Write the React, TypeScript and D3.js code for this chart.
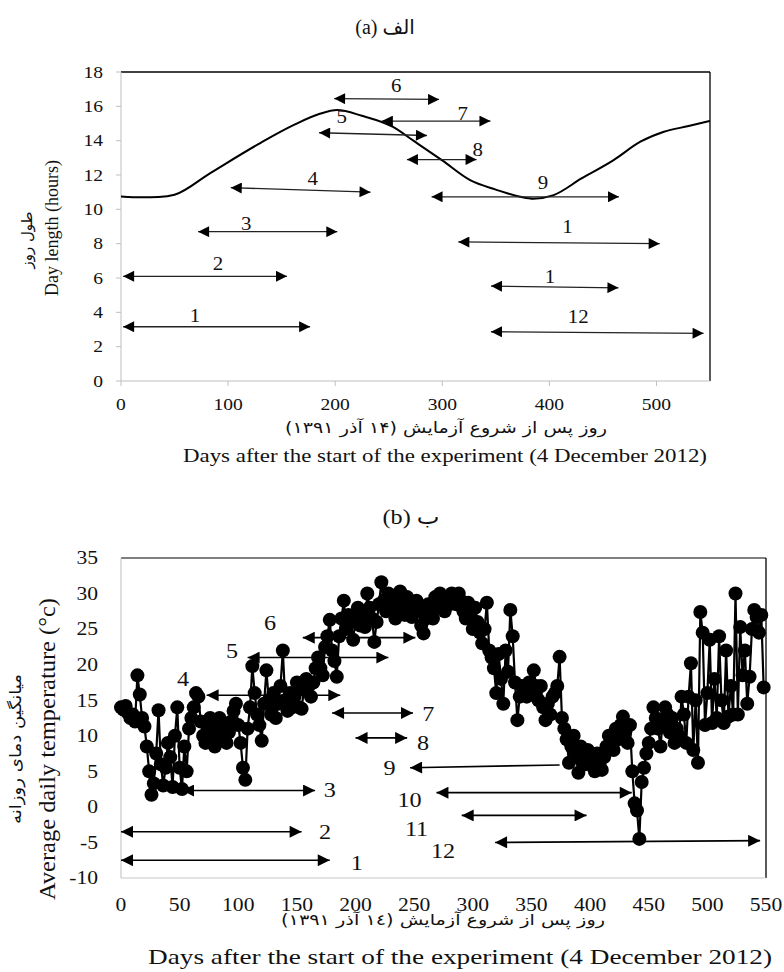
import React from "react";
import * as d3 from "d3";

// ---------- Panel (a): day length ----------
const dayLenDays = [0, 20, 35, 50, 83, 130, 161, 185, 202, 225, 254, 273, 300, 326, 350, 373, 385, 404, 430, 460, 485, 507, 530, 550];
const dayLenHours = [10.75, 10.7, 10.72, 10.85, 12.1, 13.86, 14.9, 15.55, 15.78, 15.45, 14.8, 14.0, 12.85, 11.7, 11.15, 10.73, 10.62, 10.83, 11.8, 12.87, 13.94, 14.52, 14.85, 15.15];
const xTicksA = [0, 100, 200, 300, 400, 500];
const yTicksA = [0, 2, 4, 6, 8, 10, 12, 14, 16, 18];

const arrowLabelsA = ["1", "2", "3", "4", "5", "6", "7", "8", "9", "1", "1", "12"];
const arrowFromDayA = [2, 2, 72, 102.5, 185, 199, 243.6, 267, 290, 315, 345.5, 345.5];
const arrowToDayA = [176.6, 155, 202, 233, 285.7, 297, 345, 332, 465, 503, 464.5, 544];
const arrowFromValA = [3.16, 6.1, 8.7, 11.26, 14.46, 16.45, 15.14, 12.9, 10.73, 8.1, 5.53, 2.87];
const arrowToValA = [3.16, 6.1, 8.7, 11.0, 14.3, 16.4, 15.14, 12.9, 10.73, 8.0, 5.43, 2.78];
const labelDayA = [69, 90.6, 117, 179, 206, 257, 319, 333, 394, 417, 400.6, 427];
const labelValA = [3.84, 6.87, 9.2, 11.8, 15.4, 17.24, 15.6, 13.5, 11.6, 8.99, 6.07, 3.79];

// ---------- Panel (b): average daily temperature (every 2nd day) ----------
const tempStepDays = 2;
const tempValues = [
  14.0, 13.7, 14.2, 13.2, 12.5, 13.0, 12.0, 18.5, 15.8, 12.5, // 0-18
  11.3, 8.5, 5.0, 1.7, 3.3, 7.5, 13.6, 6.0, 3.0, 5.5, // 20-38
  9.0, 7.0, 2.8, 10.0, 14.0, 5.5, 2.5, 8.5, 5.0, 11.0, // 40-58
  12.5, 14.0, 16.0, 15.5, 12.0, 10.0, 9.0, 11.5, 12.5, 10.0, // 60-78
  8.5, 11.0, 12.5, 9.5, 11.0, 9.0, 10.5, 12.0, 13.5, 14.5, // 80-98
  11.5, 9.0, 5.5, 3.8, 11.0, 14.0, 19.8, 16.0, 13.0, 11.5, // 100-118
  9.3, 14.5, 19.2, 15.0, 13.0, 16.0, 12.5, 14.5, 17.0, 22.0, // 120-138
  15.0, 13.5, 16.0, 14.0, 15.5, 17.5, 14.0, 13.8, 16.5, 18.0, // 140-158
  17.0, 15.5, 17.5, 19.5, 21.0, 19.5, 18.5, 22.5, 24.0, 26.3, // 160-178
  22.0, 20.5, 18.3, 24.0, 26.5, 29.0, 25.0, 27.0, 26.0, 23.5, // 180-198
  26.5, 28.0, 25.5, 27.0, 25.3, 30.0, 28.0, 26.5, 23.2, 26.0, // 200-218
  28.5, 31.6, 29.0, 27.5, 30.0, 28.5, 29.5, 26.5, 28.0, 30.3, // 220-238
  29.0, 27.0, 29.5, 28.0, 26.7, 28.0, 29.0, 27.5, 25.5, 24.4, // 240-258
  26.5, 28.5, 27.0, 26.5, 29.5, 28.0, 30.0, 29.0, 27.5, 29.5, // 260-278
  28.5, 30.0, 29.0, 28.5, 30.0, 29.0, 27.5, 26.5, 28.7, 27.0, // 280-298
  25.0, 28.0, 26.0, 24.5, 23.0, 25.0, 28.7, 22.0, 21.0, 19.5, // 300-318
  16.0, 21.5, 18.0, 14.5, 22.0, 19.0, 27.7, 24.0, 17.5, 12.2, // 320-338
  15.5, 17.0, 16.0, 15.5, 17.5, 16.0, 19.2, 17.0, 15.0, 17.0, // 340-358
  14.0, 12.2, 14.5, 13.0, 15.5, 16.0, 17.0, 21.1, 12.5, 11.0, // 360-378
  9.5, 6.2, 8.5, 10.0, 7.0, 4.8, 8.5, 7.0, 6.0, 8.0, // 380-398
  7.5, 6.5, 5.0, 7.5, 6.0, 5.2, 7.0, 8.5, 10.0, 9.0, // 400-418
  8.0, 11.0, 9.5, 11.5, 12.7, 10.5, 9.0, 11.5, 5.0, 0.5, // 420-438
  -0.5, -4.5, 3.5, 5.5, 7.5, 9.0, 11.0, 14.0, 12.5, 11.0, // 440-458
  8.5, 12.0, 14.0, 13.0, 10.5, 12.5, 9.0, 11.0, 10.0, 15.5, // 460-478
  13.0, 9.0, 15.5, 20.2, 8.0, 15.0, 6.2, 27.4, 24.5, 11.5, // 480-498
  16.0, 23.5, 11.8, 18.0, 12.5, 24.0, 15.0, 11.8, 22.0, 12.7, // 500-518
  17.0, 13.0, 30.0, 13.0, 25.3, 18.5, 22.0, 14.5, 18.3, 25.0, // 520-538
  27.7, 26.7, 24.5, 27.0, 16.8, // 540-548
];
const xTicksB = [0, 50, 100, 150, 200, 250, 300, 350, 400, 450, 500, 550];
const yTicksB = [-10, -5, 0, 5, 10, 15, 20, 25, 30, 35];

const arrowLabelsB = ["1", "2", "3", "4", "5", "6", "7", "8", "9", "10", "11", "12"];
const arrowFromDayB = [0, 0, 52, 73, 108, 155, 180, 200, 246.5, 269, 290.5, 319];
const arrowToDayB = [178, 154, 165.5, 187, 228, 251, 249, 244, 374, 435.5, 397, 545];
const arrowFromValB = [-7.5, -3.5, 2.3, 15.7, 21.0, 23.8, 13.2, 9.7, 5.5, 2.0, -1.2, -5.0];
const arrowToValB = [-7.5, -3.5, 2.3, 15.7, 21.0, 23.8, 13.2, 9.7, 5.9, 2.0, -1.2, -4.75];
const arrowBothHeadsB = [true, true, true, true, true, true, true, true, false, true, true, true];
const labelDayB = [201, 174, 178, 53, 94.7, 127, 262, 257.5, 229, 246, 252, 274.6];
const labelValB = [-7.75, -3.5, 2.4, 18.1, 22.0, 25.9, 13.2, 9.0, 5.5, 1.0, -3.0, -6.1];

const SERIF = "'Liberation Serif', 'Times New Roman', 'DejaVu Sans', serif";
const PERSIAN = "'DejaVu Sans', 'Liberation Serif', serif";

type TProps = {
  x: number; y: number; size: number; sx?: number; anchor?: string; rotate?: number;
  rtl?: boolean; len?: number; family?: string; children: React.ReactNode; fill?: string;
};
const T = ({ x, y, size, sx = 1, anchor = "middle", rotate = 0, rtl = false, len, family = SERIF, children, fill = "#111" }: TProps) => (
  <text
    transform={`translate(${x},${y}) rotate(${rotate}) scale(${sx},1)`}
    fontSize={size}
    fontFamily={family}
    textAnchor={anchor as any}
    dominantBaseline="central"
    direction={rtl ? "rtl" : undefined}
    textLength={len}
    lengthAdjust={len ? "spacingAndGlyphs" : undefined}
    fill={fill}
  >
    {children}
  </text>
);

export default function App() {
  // Panel a scales
  const xA = d3.scaleLinear().domain([0, 550]).range([121, 710]);
  const yA = d3.scaleLinear().domain([0, 18]).range([381, 72]);
  const lineA = d3
    .line<number>()
    .x((_, i) => xA(dayLenDays[i]))
    .y((d) => yA(d))
    .curve(d3.curveMonotoneX);

  // Panel b scales
  const xB = d3.scaleLinear().domain([0, 550]).range([121, 766]);
  const yB = d3.scaleLinear().domain([-10, 35]).range([878, 558]);
  const tempDays = tempValues.map((_, i) => i * tempStepDays);
  const lineB = d3
    .line<number>()
    .x((_, i) => xB(tempDays[i]))
    .y((d) => yB(d));

  return (
    <svg width={784} height={972} style={{ position: "absolute", left: 0, top: 0, background: "#fff" }}>
      <defs>
        <marker id="headA" viewBox="0 0 10 10" refX={10} refY={5} markerWidth={14} markerHeight={11} markerUnits="userSpaceOnUse" orient="auto-start-reverse">
          <path d="M0,0 L10,5 L0,10 Z" fill="#000" />
        </marker>
        <marker id="headB" viewBox="0 0 10 10" refX={10} refY={5} markerWidth={15} markerHeight={12} markerUnits="userSpaceOnUse" orient="auto-start-reverse">
          <path d="M0,0 L10,5 L0,10 Z" fill="#000" />
        </marker>
      </defs>

      {/* ================= Panel (a) ================= */}
      <T x={385} y={27} size={20}>(a) الف</T>

      {/* axes & frame */}
      <line x1={xA(0)} x2={xA(550)} y1={yA(18)} y2={yA(18)} stroke="#000" strokeWidth={1.3} />
      <line x1={xA(550)} x2={xA(550)} y1={yA(18)} y2={yA(0)} stroke="#000" strokeWidth={1.3} />
      <line x1={xA(0)} x2={xA(0)} y1={yA(18)} y2={yA(0)} stroke="#bfbfbf" strokeWidth={1} />
      <line x1={xA(0)} x2={xA(550)} y1={yA(0)} y2={yA(0)} stroke="#bfbfbf" strokeWidth={1} />
      {yTicksA.map((t) => (
        <g key={"ya" + t}>
          <line x1={xA(0) - 5} x2={xA(0)} y1={yA(t)} y2={yA(t)} stroke="#bfbfbf" />
          <T x={103} y={yA(t)} size={17} sx={1.15} anchor="end">{t}</T>
        </g>
      ))}
      {xTicksA.map((t) => (
        <g key={"xa" + t}>
          <line x1={xA(t)} x2={xA(t)} y1={yA(0)} y2={yA(0) + 5} stroke="#bfbfbf" />
          <T x={xA(t)} y={404} size={17} sx={1.15}>{t}</T>
        </g>
      ))}

      {/* day length curve */}
      <path d={lineA(dayLenHours) || ""} fill="none" stroke="#000" strokeWidth={2} />

      {/* arrows a */}
      {arrowLabelsA.map((lab, i) => (
        <g key={"aa" + i}>
          <line
            x1={xA(arrowFromDayA[i])} y1={yA(arrowFromValA[i])}
            x2={xA(arrowToDayA[i])} y2={yA(arrowToValA[i])}
            stroke="#222" strokeWidth={1.3}
            markerStart="url(#headA)" markerEnd="url(#headA)"
          />
          <T x={xA(labelDayA[i])} y={yA(labelValA[i])} size={19} sx={1.1}>{lab}</T>
        </g>
      ))}

      {/* axis titles a */}
      <T x={446} y={427} size={16} rtl family={PERSIAN} len={322}>روز پس از شروع آزمایش (۱۴ آذر ۱۳۹۱)</T>
      <T x={445} y={456} size={18} len={524}>Days after the start of the experiment  (4 December 2012)</T>
      <T x={27} y={240} size={15} rotate={-90} rtl family={PERSIAN}>طول روز</T>
      <T x={52} y={228} size={18} rotate={-90}>Day length (hours)</T>

      {/* ================= Panel (b) ================= */}
      <T x={411} y={517} size={21} sx={1.15}>(b) ب</T>

      <line x1={xB(0)} x2={xB(550)} y1={yB(35)} y2={yB(35)} stroke="#555" strokeWidth={1.3} />
      <line x1={xB(550)} x2={xB(550)} y1={yB(35)} y2={yB(-10)} stroke="#000" strokeWidth={1.3} />
      <line x1={xB(0)} x2={xB(0)} y1={yB(35)} y2={yB(-10)} stroke="#c8c8c8" strokeWidth={1.2} />
      <line x1={xB(0)} x2={xB(550)} y1={yB(-10)} y2={yB(-10)} stroke="#c8c8c8" strokeWidth={1.2} />
      {yTicksB.map((t) => (
        <T key={"yb" + t} x={98} y={yB(t)} size={18} sx={1.2} anchor="end">{t}</T>
      ))}
      {xTicksB.map((t) => (
        <T key={"xb" + t} x={xB(t)} y={905} size={18} sx={1.2}>{t}</T>
      ))}

      {/* temperature series */}
      <path d={lineB(tempValues) || ""} fill="none" stroke="#000" strokeWidth={2.2} />
      {tempValues.map((v, i) => (
        <circle key={"pt" + i} cx={xB(tempDays[i])} cy={yB(v)} r={7} fill="#000" />
      ))}

      {/* arrows b */}
      {arrowLabelsB.map((lab, i) => (
        <g key={"ab" + i}>
          <line
            x1={xB(arrowFromDayB[i])} y1={yB(arrowFromValB[i])}
            x2={xB(arrowToDayB[i])} y2={yB(arrowToValB[i])}
            stroke="#000" strokeWidth={1.6}
            markerStart="url(#headB)" markerEnd={arrowBothHeadsB[i] ? "url(#headB)" : undefined}
          />
          <T x={xB(labelDayB[i])} y={yB(labelValB[i])} size={22} sx={1.1}>{lab}</T>
        </g>
      ))}

      {/* axis titles b */}
      <T x={443} y={920} size={15} rtl family={PERSIAN} len={324}>روز پس از شروع آزمایش (١٤ آذر ١٣٩١)</T>
      <T x={460} y={957} size={21} len={624}>Days after the start of the experiment (4 December 2012)</T>
      <T x={15} y={749} size={16} rotate={-90} rtl family={PERSIAN} len={150}>میانگین دمای روزانه</T>
      <T x={47} y={749} size={23} rotate={-90} len={302}>Average daily temperature (°c)</T>
    </svg>
  );
}
